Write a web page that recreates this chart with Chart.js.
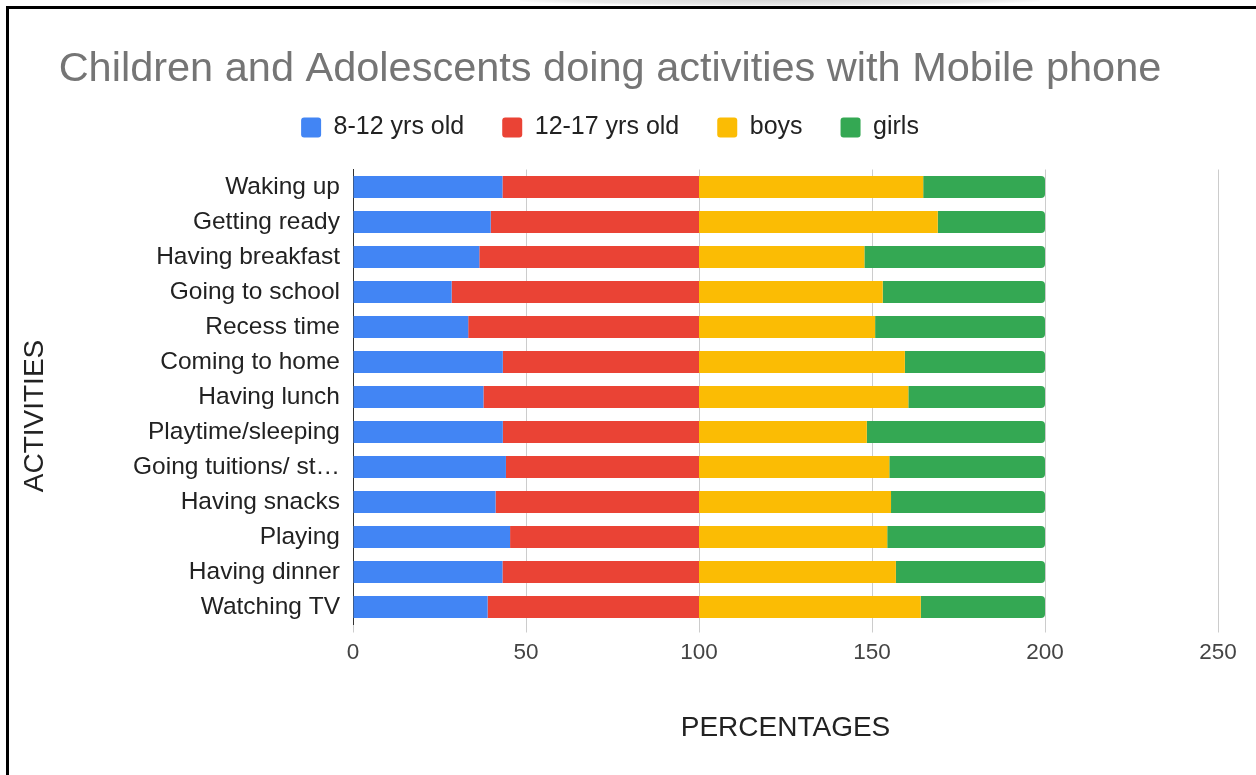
<!DOCTYPE html>
<html>
<head>
<meta charset="utf-8">
<script src="https://cdn.jsdelivr.net/npm/chart.js@4.4.1/dist/chart.umd.min.js"></script>
<style>
  html, body { margin: 0; padding: 0; background: #fff; }
  #wrap { position: relative; width: 1256px; height: 775px; overflow: hidden; }
  #chart { position: absolute; left: 0; top: 0; }
  #frame { position: absolute; left: 6px; top: 6px; width: 1300px; height: 800px;
           border-top: 3px solid #000; border-left: 3px solid #000; pointer-events: none; }
  #shade { position: absolute; left: 520px; top: -6px; width: 520px; height: 12px;
           background: radial-gradient(ellipse at center, #d6d6d6 0%, #e8e8e8 55%, rgba(255,255,255,0) 75%); }
</style>
</head>
<body>
<div id="wrap">
  <canvas id="chart" width="1256" height="775"></canvas>
  <div id="shade"></div>
  <div id="frame"></div>
</div>
<script>
const activities = [
  'Waking up', 'Getting ready', 'Having breakfast', 'Going to school', 'Recess time',
  'Coming to home', 'Having lunch', 'Playtime/sleeping', 'Going tuitions/ st\u2026',
  'Having snacks', 'Playing', 'Having dinner', 'Watching TV'
];
const age8to12  = [43.2, 39.8, 36.5, 28.5, 33.3, 43.3, 37.7, 43.3, 44.2, 41.2, 45.4, 43.2, 38.9];
const age12to17 = [56.8, 60.2, 63.5, 71.5, 66.7, 56.7, 62.3, 56.7, 55.8, 58.8, 54.6, 56.8, 61.1];
const boys      = [64.8, 69.0, 47.8, 53.1, 50.9, 59.5, 60.5, 48.5, 55.0, 55.5, 54.4, 56.9, 64.1];
const girls     = [35.2, 31.0, 52.2, 46.9, 49.1, 40.5, 39.5, 51.5, 45.0, 44.5, 45.6, 43.1, 35.9];
const xTicks = [0, 50, 100, 150, 200, 250];

const FONT = "'Liberation Sans', Arial, sans-serif";

function series(label, data, color) {
  return {
    label: label,
    data: data,
    backgroundColor: color,
    borderWidth: 0,
    borderRadius: 4,
    barPercentage: 0.63,
    categoryPercentage: 1
  };
}

// vertical axis title, drawn a bit below the plot centre like the original
const yAxisTitle = {
  id: 'yAxisTitle',
  afterDraw(chart) {
    const ctx = chart.ctx;
    ctx.save();
    ctx.translate(35, 416);
    ctx.rotate(-Math.PI / 2);
    ctx.font = '28px ' + FONT;
    ctx.fillStyle = '#222';
    ctx.textAlign = 'center';
    ctx.textBaseline = 'middle';
    ctx.fillText('ACTIVITIES', 0, 0);
    ctx.restore();
  }
};

new Chart(document.getElementById('chart'), {
  type: 'bar',
  data: {
    labels: activities,
    datasets: [
      series('8-12 yrs old', age8to12, '#4285F4'),
      series('12-17 yrs old', age12to17, '#EA4335'),
      series('boys', boys, '#FBBC04'),
      series('girls', girls, '#34A853')
    ]
  },
  plugins: [yAxisTitle],
  options: {
    indexAxis: 'y',
    responsive: false,
    animation: false,
    devicePixelRatio: 1,
    layout: { padding: { left: 2, right: 38, top: 0, bottom: 0 } },
    plugins: {
      title: {
        display: true,
        text: 'Children and Adolescents doing activities with Mobile phone',
        color: '#757575',
        font: { family: FONT, size: 41.5, weight: 'normal' },
        padding: { top: 45, bottom: -17.8 }
      },
      // empty spacer between legend and plot
      subtitle: {
        display: true,
        text: '',
        weight: 500,
        font: { size: 10, lineHeight: 1 },
        padding: { top: 9.5, bottom: 0 }
      },
      legend: {
        position: 'top',
        labels: {
          color: '#222',
          font: { family: FONT, size: 25 },
          boxWidth: 20,
          boxHeight: 20,
          padding: 38,
          useBorderRadius: true,
          borderRadius: 3
        }
      },
      tooltip: { enabled: false }
    },
    scales: {
      x: {
        stacked: true,
        min: 0,
        max: 250,
        afterBuildTicks: s => { s.ticks = xTicks.map(v => ({ value: v })); },
        afterFit: s => { s.height = 150.5; },
        grid: { color: '#cccccc', lineWidth: 1, tickLength: 8, drawTicks: true },
        border: { display: false },
        ticks: {
          color: '#444',
          font: { family: FONT, size: 22.5 },
          padding: 7
        },
        title: {
          display: true,
          text: 'PERCENTAGES',
          color: '#222',
          font: { family: FONT, size: 28 },
          padding: { top: 0, bottom: 30 }
        }
      },
      y: {
        stacked: true,
        afterFit: s => { s.width = 351; },
        grid: { display: false },
        border: { display: true, color: '#333', width: 1 },
        ticks: {
          color: '#222',
          autoSkip: false,
          font: { family: FONT, size: 24.5 },
          padding: 5
        },
        title: { display: false }
      }
    }
  }
});
</script>
</body>
</html>
